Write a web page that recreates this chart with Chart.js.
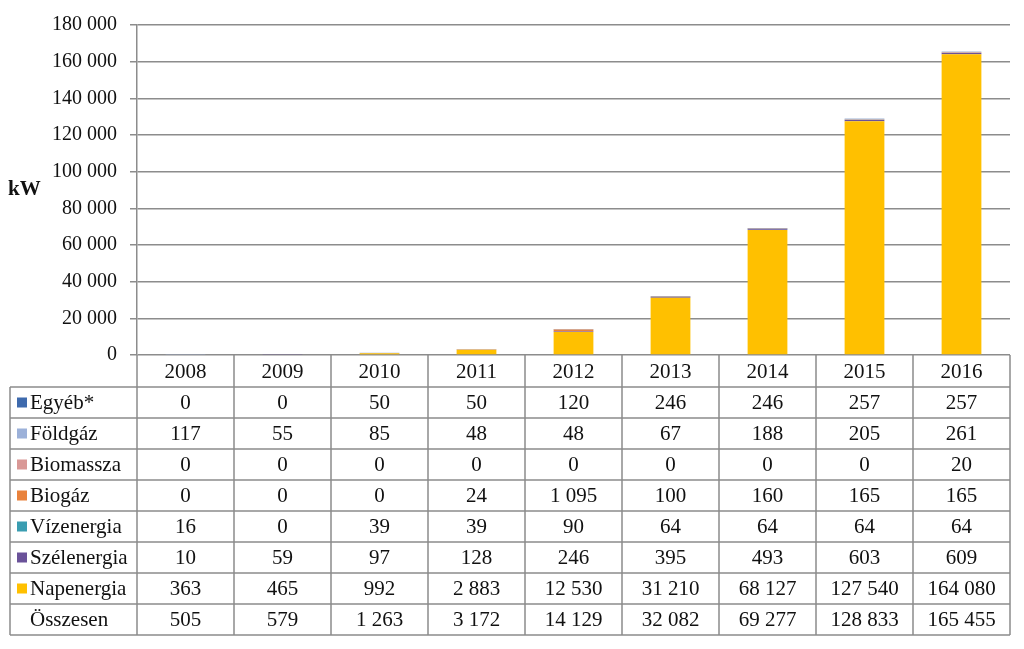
<!DOCTYPE html>
<html>
<head>
<meta charset="utf-8">
<script src="https://cdn.jsdelivr.net/npm/chart.js@4"></script>
<style>
  html, body { margin: 0; padding: 0; background: #fff; }
  #chart { display: block; }
</style>
</head>
<body>
<canvas id="chart" width="1024" height="649"></canvas>
<script>
const years = ['2008', '2009', '2010', '2011', '2012', '2013', '2014', '2015', '2016'];

const egyeb       = [0, 0, 50, 50, 120, 246, 246, 257, 257];
const foldgaz     = [117, 55, 85, 48, 48, 67, 188, 205, 261];
const biomassza   = [0, 0, 0, 0, 0, 0, 0, 0, 20];
const biogaz      = [0, 0, 0, 24, 1095, 100, 160, 165, 165];
const vizenergia  = [16, 0, 39, 39, 90, 64, 64, 64, 64];
const szelenergia = [10, 59, 97, 128, 246, 395, 493, 603, 609];
const napenergia  = [363, 465, 992, 2883, 12530, 31210, 68127, 127540, 164080];
const osszesen    = [505, 579, 1263, 3172, 14129, 32082, 69277, 128833, 165455];

const yTicks = [0, 20000, 40000, 60000, 80000, 100000, 120000, 140000, 160000, 180000];

const fmt = n => String(n).replace(/\B(?=(\d{3})+(?!\d))/g, ' ');

// table rows, top to bottom (legend order)
const series = [
    { label: 'Egyéb*', data: egyeb, color: '#3e6aad' },
    { label: 'Földgáz', data: foldgaz, color: '#9cb1d9' },
    { label: 'Biomassza', data: biomassza, color: '#d99896' },
    { label: 'Biogáz', data: biogaz, color: '#e9823c' },
    { label: 'Vízenergia', data: vizenergia, color: '#3a9db1' },
    { label: 'Szélenergia', data: szelenergia, color: '#6a5299' },
    { label: 'Napenergia', data: napenergia, color: '#ffc000' }
];

const serif = "'Liberation Serif', 'DejaVu Serif', serif";
const lineCol = '#8c8c8c';

const tablePlugin = {
    id: 'dataTable',
    afterDraw(chart) {
        const ctx = chart.ctx;
        const x = chart.scales.x;
        const area = chart.chartArea;
        const colW = (area.right - area.left) / years.length;
        const top = area.bottom;
        const headH = 32;
        const rowH = 31;
        const left = 10;
        const nRows = series.length + 1;
        const bottom = top + headH + nRows * rowH;

        ctx.save();
        ctx.strokeStyle = lineCol;
        ctx.lineWidth = 1.5;
        ctx.beginPath();
        // vertical lines
        for (let i = 0; i <= years.length; i++) {
            const vx = area.left + i * colW;
            ctx.moveTo(vx, top);
            ctx.lineTo(vx, bottom);
        }
        ctx.moveTo(left, top + headH);
        ctx.lineTo(left, bottom);
        // horizontal lines
        for (let r = 0; r <= nRows; r++) {
            const hy = top + headH + r * rowH;
            ctx.moveTo(left, hy);
            ctx.lineTo(area.right, hy);
        }
        ctx.stroke();

        ctx.fillStyle = '#111';
        ctx.font = '21px ' + serif;
        ctx.textBaseline = 'middle';
        ctx.textAlign = 'center';
        years.forEach((y, i) => {
            ctx.fillText(y, x.getPixelForValue(i), top + headH / 2 + 1);
        });

        const rows = series.map(s => ({ label: s.label, data: s.data, color: s.color }))
            .concat([{ label: 'Összesen', data: osszesen, color: null }]);
        rows.forEach((row, r) => {
            const cy = top + headH + r * rowH + rowH / 2 + 1;
            if (row.color) {
                ctx.fillStyle = row.color;
                ctx.fillRect(17, cy - 6, 10, 10);
            }
            ctx.fillStyle = '#111';
            ctx.textAlign = 'left';
            ctx.fillText(row.label, 30, cy);
            ctx.textAlign = 'center';
            row.data.forEach((v, i) => {
                ctx.fillText(fmt(v), x.getPixelForValue(i), cy);
            });
        });

        ctx.font = 'bold 21px ' + serif;
        ctx.textAlign = 'left';
        ctx.fillText('kW', 8, 190);
        ctx.restore();
    }
};

// stack from the bottom: Napenergia first
const datasets = series.slice().reverse().map(s => ({
    label: s.label,
    data: s.data,
    backgroundColor: s.color,
    barPercentage: 0.41,
    categoryPercentage: 1
}));

new Chart(document.getElementById('chart').getContext('2d'), {
    type: 'bar',
    data: { labels: years, datasets: datasets },
    options: {
        responsive: false,
        animation: false,
        layout: { padding: { top: 23, right: 14, bottom: 294, left: 0 } },
        plugins: { legend: { display: false }, tooltip: { enabled: false } },
        scales: {
            x: { stacked: true, display: false },
            y: {
                stacked: true,
                min: 0,
                max: 180000,
                afterFit: s => { s.width = 137; },
                afterBuildTicks: s => { s.ticks = yTicks.map(v => ({ value: v })); },
                ticks: {
                    color: '#111',
                    padding: 13,
                    font: { family: serif, size: 20 },
                    callback: v => fmt(v)
                },
                grid: { color: lineCol, lineWidth: 1.5, tickLength: 7, tickColor: lineCol },
                border: { color: lineCol, width: 1.5 }
            }
        }
    },
    plugins: [tablePlugin]
});
</script>
</body>
</html>
